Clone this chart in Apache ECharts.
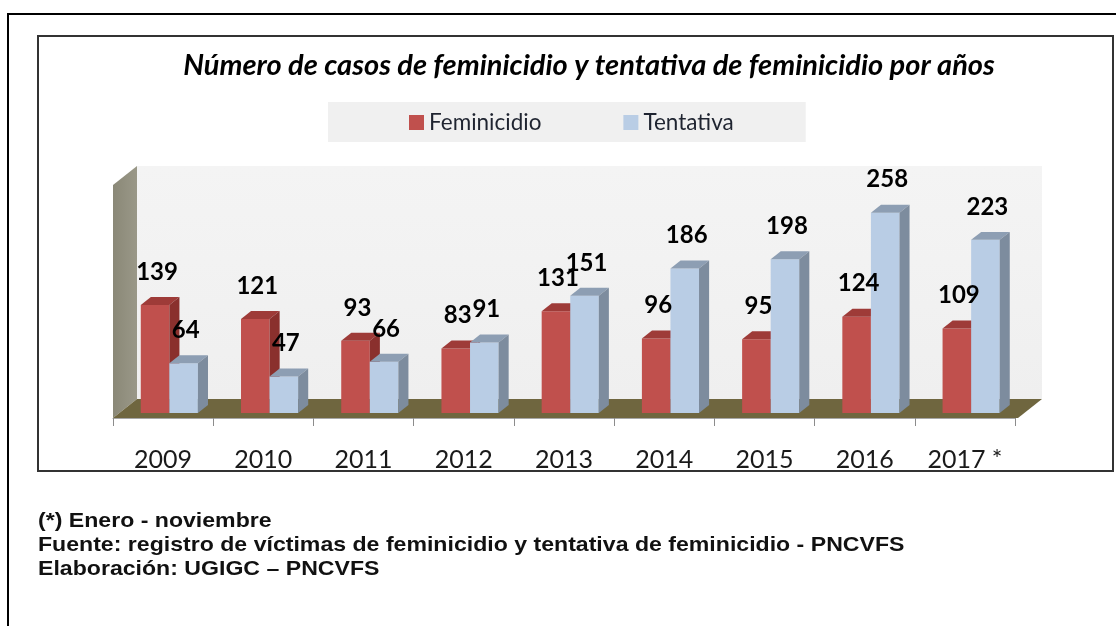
<!DOCTYPE html>
<html>
<head>
<meta charset="utf-8">
<script src="https://cdn.jsdelivr.net/npm/echarts@6/dist/echarts.min.js"></script>
<style>
  html, body { margin: 0; padding: 0; background: #fff; }
  #main { width: 1116px; height: 626px; }
</style>
</head>
<body>
<div id="main"></div>
<script>
// data
const years = ['2009', '2010', '2011', '2012', '2013', '2014', '2015', '2016', '2017 *'];
const feminicidio = [139, 121, 93, 83, 131, 96, 95, 124, 109];
const tentativa = [64, 47, 66, 91, 151, 186, 198, 258, 223];

const chartTitle = 'Número de casos de feminicidio y tentativa de feminicidio por años';
const notes = [
    '(*) Enero - noviembre',
    'Fuente: registro de víctimas de feminicidio y tentativa de feminicidio - PNCVFS',
    'Elaboración: UGIGC – PNCVFS'
];

// depth of the fake 3d box
const DX = 24, DY = -19;
const BAR_W = 0.285;      // share of a category
const BAR_D0 = 0.26;      // where the bars start in depth
const BAR_D = 0.42;       // how deep the bars are

const chart = echarts.init(document.getElementById('main'));

// walls and floor
function renderWalls(params, api) {
    const cs = params.coordSys;
    const x0 = cs.x, y0 = cs.y, x1 = cs.x + cs.width, y1 = cs.y + cs.height;
    return {
        type: 'group',
        children: [
            {
                type: 'rect',
                shape: { x: x0 + DX, y: y0 + DY, width: cs.width + 3, height: cs.height },
                style: {
                    fill: new echarts.graphic.LinearGradient(0, 0, 0, 1, [
                        { offset: 0, color: '#F4F4F4' },
                        { offset: 1, color: '#EFEFEF' }
                    ])
                }
            },
            {
                type: 'polygon',
                shape: { points: [[x0, y0], [x0 + DX, y0 + DY], [x0 + DX, y1 + DY], [x0, y1]] },
                style: {
                    fill: new echarts.graphic.LinearGradient(0, 0, 1, 0, [
                        { offset: 0, color: '#8A8877' },
                        { offset: 1, color: '#9A9888' }
                    ])
                }
            },
            {
                type: 'polygon',
                shape: { points: [[x0, y1], [x1 + 3, y1], [x1 + DX + 3, y1 + DY], [x0 + DX, y1 + DY]] },
                style: { fill: '#6F663F' }
            }
        ]
    };
}

function makeBarRenderer(side, front, top, dark) {
    return function (params, api) {
        const i = api.value(0);
        const v = api.value(1);
        const base = api.coord([i, 0]);
        const head = api.coord([i, v]);
        const bw = api.size([1, 0])[0];
        const w = bw * BAR_W;
        const sx = DX * BAR_D0, sy = DY * BAR_D0;
        const dx = DX * BAR_D, dy = DY * BAR_D;
        const xl = base[0] + sx + (side === 0 ? -w : 0);
        const xr = xl + w;
        const yb = base[1] + sy;
        const yt = head[1] + sy;
        return {
            type: 'group',
            children: [
                {
                    type: 'rect',
                    shape: { x: xl, y: yt, width: w, height: yb - yt },
                    style: { fill: front }
                },
                {
                    type: 'polygon',
                    shape: { points: [[xl, yt], [xr, yt], [xr + dx, yt + dy], [xl + dx, yt + dy]] },
                    style: { fill: top }
                },
                {
                    type: 'polygon',
                    shape: { points: [[xr, yt], [xr + dx, yt + dy], [xr + dx, yb + dy], [xr, yb]] },
                    style: { fill: dark }
                },
                {
                    type: 'text',
                    z2: 100,
                    style: {
                        text: String(v),
                        x: (xl + xr) / 2 + 2,
                        y: yt - 33,
                        align: 'center',
                        verticalAlign: 'middle',
                        font: 'bold 24px Lato, "Open Sans", sans-serif',
                        fill: '#000'
                    }
                }
            ]
        };
    };
}

const option = {
    backgroundColor: '#fff',
    animation: false,
    title: {
        text: chartTitle,
        left: 584,
        top: 46,
        textAlign: 'center',
        textStyle: {
            fontFamily: 'Lato',
            fontStyle: 'italic',
            fontWeight: 'bold',
            fontSize: 29,
            color: '#000'
        }
    },
    legend: {
        data: ['Feminicidio', 'Tentativa'],
        left: 328,
        top: 102,
        backgroundColor: '#F0F0F0',
        padding: [9, 72, 8, 81],
        icon: 'rect',
        itemWidth: 15,
        itemHeight: 15,
        itemGap: 82,
        textStyle: { fontFamily: 'Lato', fontSize: 22.5, color: '#1f2430' }
    },
    grid: { left: 113, right: 101, top: 185, bottom: 208 },
    xAxis: {
        type: 'category',
        data: years,
        axisLine: { show: true, lineStyle: { color: '#A6A6A6', width: 1 } },
        axisTick: { show: true, length: 8, lineStyle: { color: '#8C8C8C' } },
        axisLabel: {
            margin: 29,
            fontFamily: 'Lato',
            fontSize: 25,
            color: '#1a1a1a'
        }
    },
    yAxis: {
        type: 'value',
        min: 0,
        max: 300,
        show: false
    },
    series: [
        {
            type: 'custom',
            name: 'walls',
            silent: true,
            z: 1,
            data: [[0, 0]],
            renderItem: renderWalls
        },
        {
            type: 'custom',
            name: 'Feminicidio',
            z: 2,
            itemStyle: { color: '#C0504D' },
            data: feminicidio.map((v, i) => [i, v]),
            encode: { x: 0, y: 1 },
            renderItem: makeBarRenderer(0, '#C0504D', '#9E3B38', '#8A302D')
        },
        {
            type: 'custom',
            name: 'Tentativa',
            z: 2,
            itemStyle: { color: '#B9CDE5' },
            data: tentativa.map((v, i) => [i, v]),
            encode: { x: 0, y: 1 },
            renderItem: makeBarRenderer(1, '#B9CDE5', '#8D9EB3', '#7D8C9E')
        }
    ],
    graphic: [
        {
            type: 'polyline',
            silent: true,
            shape: { points: [[8, 700], [8, 14], [1200, 14]] },
            style: { stroke: '#000', lineWidth: 2, fill: null }
        },
        {
            type: 'rect',
            silent: true,
            shape: { x: 38, y: 36, width: 1075, height: 435 },
            style: { fill: null, stroke: '#333', lineWidth: 2 }
        }
    ].concat(notes.map((t, k) => ({
        type: 'text',
        silent: true,
        x: 38,
        y: 521 + k * 24,
        scaleX: 1.1,
        style: {
            text: t,
            x: 0,
            y: 0,
            verticalAlign: 'middle',
            font: 'bold 21px "Liberation Sans", Arial, sans-serif',
            fill: '#111'
        }
    })))
};

chart.setOption(option);
</script>
</body>
</html>
